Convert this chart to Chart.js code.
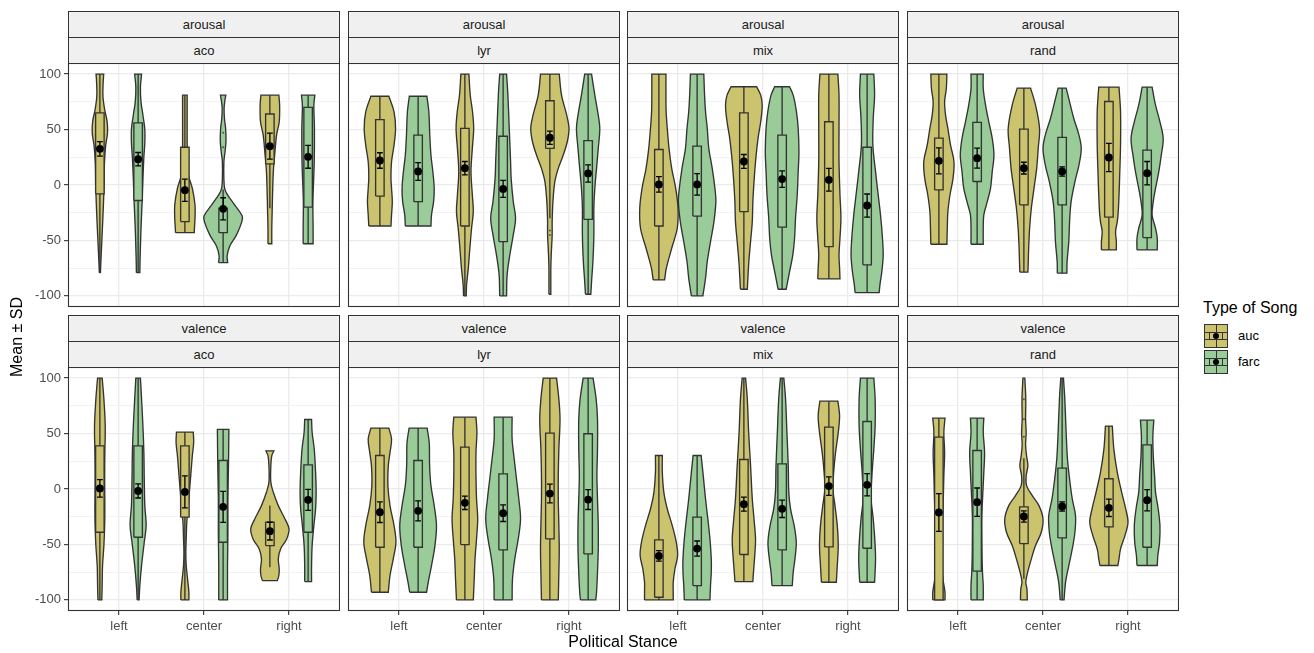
<!DOCTYPE html>
<html>
<head>
<meta charset="utf-8">
<script src="https://cdn.jsdelivr.net/npm/chart.js@4.4.1/dist/chart.umd.min.js"></script>
<style>
html,body{margin:0;padding:0;background:#fff;}
body{width:1314px;height:653px;position:relative;overflow:hidden;font-family:"Liberation Sans",Arial,Helvetica,sans-serif;}
canvas{position:absolute;}
.strip{position:absolute;background:#F0F0F0;border:1px solid #333;box-sizing:border-box;font-size:13px;color:#1A1A1A;text-align:center;}
.title{position:absolute;font-size:16px;color:#000;white-space:nowrap;}
.key{position:absolute;width:24px;height:24px;border:1px solid #333;box-sizing:border-box;}
.key i{position:absolute;background:#333;display:block;}
.key b{position:absolute;left:8px;top:8px;width:6px;height:6px;border-radius:50%;background:#000;}
.lab{position:absolute;font-size:13px;color:#000;}
</style>
</head>
<body>
<script>
// ---------------- data ----------------
const categories = ['left', 'center', 'right'];
const seriesNames = ['auc', 'farc'];
const rowLabels = ['arousal', 'valence'];
const colLabels = ['aco', 'lyr', 'mix', 'rand'];
const yTickValues = [-100, -75, -50, -25, 0, 25, 50, 75, 100];
const yMajorValues = [-100, -50, 0, 50, 100];

// violin order in each panel: auc-left, farc-left, auc-center, farc-center, auc-right, farc-right
// each profile: [value, relative density width] from bottom to top
const violins_arousal_aco = [
  [[-79,.03],[-70,.05],[-55,.09],[-40,.13],[-20,.18],[0,.22],[20,.24],[35,.3],[47,.4],[57,.38],[68,.25],[80,.16],[92,.17],[100,.2]],
  [[-79,.09],[-69,.1],[-50,.13],[-35,.16],[-15,.21],[5,.25],[25,.3],[38,.35],[50,.35],[62,.26],[75,.15],[88,.12],[100,.18]],
  [[-43,.49],[-39,.5],[-30,.53],[-18,.53],[-3,.39],[12,.14],[36,.12],[66,.12],[81,.12]],
  [[-70,.24],[-64,.21],[-55,.35],[-45,.7],[-33,.98],[-28,1.0],[-18,.6],[-8,.2],[-3,.08],[5,.04],[21,.04],[30,.1],[40,.15],[51,.13],[60,.07],[69,.05],[76,.09],[81,.14]],
  [[-53,.1],[-39,.1],[-24,.12],[-9,.14],[12,.18],[27,.25],[45,.35],[57,.49],[72,.51],[81,.47]],
  [[-53,.26],[-39,.26],[-15,.25],[21,.32],[51,.33],[72,.3],[81,.35]]
];
const violins_arousal_lyr = [
  [[-37,.58],[-27,.61],[-15,.65],[-3,.61],[6,.58],[21,.61],[36,.74],[51,.82],[66,.74],[80,.47]],
  [[-37,.67],[-27,.7],[-15,.81],[-3,.84],[12,.77],[27,.67],[45,.61],[66,.56],[80,.46]],
  [[-100,.07],[-90,.09],[-75,.18],[-57,.26],[-39,.35],[-24,.44],[-9,.39],[12,.32],[33,.39],[51,.46],[66,.4],[81,.28],[100,.21]],
  [[-100,.18],[-81,.21],[-63,.35],[-45,.53],[-30,.65],[-15,.53],[6,.42],[21,.39],[51,.32],[81,.25],[100,.18]],
  [[-98.5,.05],[-75,.05],[-63,.07],[-45,.12],[-33,.12],[-15,.16],[3,.26],[15,.44],[27,.7],[39,.91],[51,1.0],[63,.88],[81,.61],[100,.49]],
  [[-98.5,.14],[-87,.18],[-69,.25],[-45,.3],[-21,.3],[-3,.35],[15,.44],[33,.53],[51,.61],[63,.53],[81,.35],[100,.18]]
];
const violins_arousal_mix = [
  [[-85.6,.3],[-75,.39],[-57,.67],[-39,.96],[-21,1.0],[-3,.88],[15,.67],[33,.53],[51,.44],[66,.38],[81,.37],[100,.37]],
  [[-100,.3],[-84,.44],[-69,.53],[-51,.7],[-33,.88],[-15,.98],[-3,.93],[15,.79],[33,.61],[51,.53],[66,.44],[81,.39],[100,.35]],
  [[-94,.18],[-84,.21],[-69,.26],[-51,.35],[-33,.44],[-15,.47],[3,.53],[21,.61],[42,.74],[57,.88],[72,.96],[81,.88],[88.6,.67]],
  [[-94,.21],[-78,.39],[-63,.56],[-48,.65],[-30,.7],[-9,.79],[12,.84],[30,.88],[51,.84],[66,.75],[81,.58],[88.6,.39]],
  [[-84.7,.58],[-75,.56],[-63,.53],[-48,.58],[-30,.63],[-9,.58],[21,.53],[51,.53],[81,.53],[100,.47]],
  [[-97,.63],[-90,.67],[-78,.77],[-63,.84],[-45,.79],[-27,.7],[-9,.58],[12,.44],[36,.3],[60,.32],[81,.39],[100,.35]]
];
const violins_arousal_rand = [
  [[-53.4,.42],[-39,.44],[-24,.47],[-9,.58],[6,.74],[21,.79],[36,.61],[51,.47],[63,.35],[75,.3],[87,.39],[100,.42]],
  [[-53.4,.32],[-39,.32],[-27,.35],[-15,.53],[-3,.7],[12,.79],[27,.88],[42,.79],[57,.61],[72,.44],[87,.32],[100,.32]],
  [[-78.6,.21],[-69,.23],[-57,.25],[-39,.3],[-21,.39],[-3,.53],[15,.67],[33,.75],[51,.82],[72,.61],[87.4,.35]],
  [[-79.5,.25],[-69,.26],[-51,.35],[-33,.39],[-15,.47],[3,.67],[18,.88],[33,1.0],[45,.88],[60,.61],[75,.39],[87.4,.21]],
  [[-58.5,.39],[-51,.39],[-42,.35],[-33,.44],[-24,.49],[-9,.53],[6,.56],[36,.61],[66,.61],[88.3,.53]],
  [[-58.5,.53],[-48,.53],[-39,.44],[-27,.26],[-15,.32],[-3,.44],[12,.61],[27,.74],[42,.84],[57,.67],[72,.44],[88.3,.26]]
];
const violins_valence_aco = [
  [[-100,.1],[-87,.12],[-69,.14],[-51,.21],[-33,.25],[-15,.26],[9,.25],[33,.26],[57,.28],[81,.21],[100,.12]],
  [[-100,.05],[-87,.09],[-69,.18],[-48,.32],[-33,.42],[-15,.35],[9,.32],[33,.3],[57,.25],[81,.18],[100,.12]],
  [[-100,.21],[-93,.21],[-81,.14],[-69,.07],[-57,.05],[-45,.07],[-30,.1],[-15,.18],[0,.25],[15,.32],[30,.39],[42,.46],[51.3,.44]],
  [[-100,.23],[-69,.23],[-39,.25],[-9,.25],[21,.28],[53.7,.3]],
  [[-82.6,.39],[-78,.47],[-72,.49],[-63,.44],[-54,.56],[-45,.88],[-36,1.0],[-27,.79],[-15,.44],[-3,.18],[6,.05],[21,.05],[30,.1],[34.4,.21]],
  [[-83.5,.18],[-69,.18],[-51,.21],[-33,.3],[-18,.39],[-3,.42],[15,.39],[36,.32],[51,.21],[62.7,.18]]
];
const violins_valence_lyr = [
  [[-93.1,.44],[-78,.53],[-63,.7],[-48,.84],[-33,.74],[-15,.53],[3,.42],[21,.44],[33,.53],[45,.61],[54.9,.47]],
  [[-93.1,.44],[-84,.53],[-69,.7],[-51,.88],[-33,.96],[-15,.84],[3,.67],[21,.6],[42,.58],[54.9,.47]],
  [[-100,.44],[-81,.49],[-63,.53],[-45,.61],[-27,.67],[-9,.61],[12,.58],[33,.58],[51,.63],[64.8,.58]],
  [[-100,.47],[-81,.49],[-63,.61],[-45,.79],[-27,.91],[-9,.82],[9,.7],[27,.58],[45,.47],[64.8,.47]],
  [[-100,.44],[-75,.47],[-54,.49],[-33,.47],[-9,.44],[12,.44],[36,.47],[63,.53],[81,.47],[100,.35]],
  [[-100,.4],[-93,.44],[-75,.49],[-54,.53],[-33,.53],[-9,.49],[12,.46],[36,.49],[63,.49],[81,.42],[100,.26]]
];
const violins_valence_mix = [
  [[-100,.75],[-93,.75],[-84,.75],[-72,.84],[-60,.98],[-48,.91],[-33,.7],[-18,.44],[-3,.26],[15,.18],[30.2,.18]],
  [[-100,.67],[-87,.7],[-75,.74],[-63,.74],[-45,.67],[-27,.56],[-9,.44],[12,.32],[30.2,.21]],
  [[-83.5,.47],[-78,.49],[-69,.53],[-57,.58],[-45,.61],[-27,.53],[-9,.44],[21,.35],[51,.25],[81,.18],[100,.09]],
  [[-87.1,.53],[-75,.58],[-63,.67],[-48,.74],[-33,.63],[-18,.44],[-3,.35],[21,.32],[51,.25],[81,.18],[100,.09]],
  [[-84.1,.39],[-69,.44],[-51,.49],[-33,.44],[-15,.32],[0,.21],[15,.25],[33,.35],[51,.49],[66,.56],[79.2,.47]],
  [[-84.1,.39],[-63,.44],[-45,.4],[-27,.32],[-9,.21],[12,.25],[36,.35],[57,.42],[81,.42],[100,.35]]
];
const violins_valence_rand = [
  [[-100,.32],[-93,.32],[-81,.21],[-69,.14],[-51,.18],[-30,.19],[-9,.23],[12,.26],[33,.3],[51,.26],[63.9,.32]],
  [[-100,.32],[-87,.32],[-75,.28],[-63,.26],[-45,.25],[-24,.25],[-3,.3],[15,.35],[33,.39],[51,.32],[63.9,.35]],
  [[-100,.18],[-90,.16],[-84,.1],[-75,.2],[-63,.39],[-51,.61],[-39,.91],[-27,1.0],[-15,.79],[-6,.44],[3,.14],[12,.12],[21,.21],[30,.14],[40,.09],[51,.12],[63,.09],[81,.1],[100,.05]],
  [[-100,.1],[-84,.18],[-69,.35],[-54,.53],[-39,.67],[-24,.7],[-9,.53],[9,.39],[27,.28],[51,.21],[81,.14],[100,.07]],
  [[-69,.47],[-63,.53],[-54,.61],[-42,.84],[-30,1.0],[-18,.88],[-3,.67],[15,.44],[36,.26],[56.7,.18]],
  [[-69,.53],[-60,.56],[-48,.65],[-33,.67],[-18,.58],[-3,.44],[12,.39],[30,.32],[48,.3],[62.1,.35]]
];

// per panel (arousal aco, lyr, mix, rand, valence aco, lyr, mix, rand), 6 groups each
const boxLow = [
  [-8, -14, -33, -43, 19, -20],
  [-10, -15, -37, -51, 33, -31],
  [-37, -28, -24, -38, -55.5, -72],
  [-4.4, 3.2, -17.9, -17.9, -29, -47.4],
  [-39, -43.5, -25.4, -48, -51, -39],
  [-52.5, -52.5, -50.1, -54.9, -45, -58.5],
  [-97.6, -87.1, -59.1, -54.9, -52.2, -53.4],
  [-100, -74.1, -49.2, -44.1, -34.1, -52.5]
];
const boxHigh = [
  [65, 56, 34, -21, 64, 70],
  [59, 45, 51, 44, 76, 40],
  [32, 35, 65, 45, 57, 34],
  [42.3, 56.4, 50.4, 42.9, 75.3, 31.4],
  [38.9, 38.9, 38.9, 25.7, -29.9, 21.8],
  [30.2, 25.7, 37.7, 13.7, 50.4, 49.8],
  [-45.9, -25.4, 26.6, 22.7, 55.8, 60.9],
  [46.8, 34.7, -16.1, 18.8, 9.2, 39.8]
];
const whiskLow = [
  [-79, -79, -43, -70, -21, -53],
  [-37, -37, -100, -100, -30, -98.5],
  [-85.6, -100, -94, -94, -84.7, -97],
  [-53.4, -53.4, -78.6, -79.5, -58.5, -58.5],
  [-100, -100, -100, -100, -70.5, -83.5],
  [-93.1, -93.1, -100, -100, -100, -100],
  [-100, -100, -83.5, -87.1, -84.1, -84.1],
  [-100, -100, -81, -100, -69, -69]
];
const whiskHigh = [
  [100, 100, 81, -4, 81, 81],
  [80, 80, 100, 100, 100, 100],
  [100, 100, 88.6, 88.6, 100, 100],
  [100, 100, 87.4, 87.4, 88.3, 88.3],
  [100, 100, 51.3, 53.7, -14.9, 62.7],
  [54.9, 54.9, 64.8, 64.8, 100, 100],
  [30.2, 30.2, 100, 100, 79.2, 100],
  [63.9, 63.9, 27.8, 100, 56.7, 62.1]
];
const meanVals = [
  [32.6, 23.3, -4.7, -21.5, 35, 25.4],
  [22.1, 12.2, 15.2, -3.5, 42.6, 10.4],
  [0.5, 0.5, 21.2, 5.3, 4.7, -18.5],
  [21.8, 24.2, 15.2, 12.2, 24.8, 10.7],
  [0.5, -1.7, -2.6, -16.1, -38, -9.8],
  [-20.9, -19.7, -12.5, -21.8, -4.1, -9.5],
  [-60.3, -53.7, -13.7, -17.9, 2.6, 3.8],
  [-21.2, -11.9, -24.8, -15.8, -17, -10.1]
];
const errVals = [
  [6.5, 6, 10, 10, 11.7, 10.3],
  [7, 8, 6, 7.7, 6, 7.8],
  [7, 9.7, 6.3, 7.5, 10.3, 10.4],
  [11.7, 9, 5.3, 4.2, 12.8, 10.5],
  [7.9, 6.4, 14.5, 14, 8, 9.5],
  [9.3, 9, 6, 7.5, 8.5, 9],
  [4.8, 6.8, 6.3, 7.8, 8.3, 10],
  [17, 12.8, 5, 4.2, 7.8, 9.6]
];
// [group index, value]
const outlierVals = [
  [[3, 47], [3, 34]],
  [[4, -41], [4, -45]],
  [], [], [], [], [],
  [[2, 81], [2, 63], [2, 47]]
];
const violinSets = [violins_arousal_aco, violins_arousal_lyr, violins_arousal_mix, violins_arousal_rand,
                    violins_valence_aco, violins_valence_lyr, violins_valence_mix, violins_valence_rand];

// ---------------- style / layout ----------------
const FILL = ['#CCC36E', '#99CC99'];
const OUTLINE = '#333333';
const LW = 1.35;
const DODGE = 0.225, BOX_HW = 0.05, CAP_HW = 0.034;
const PANEL_LEFT = [68, 348, 627, 907];
const PANEL_TOP = [63, 367];
const PW = 272, PH = 244, AXW = 45, AXH = 26;
const FONT = {family: "'Liberation Sans', Arial, Helvetica, sans-serif", size: 13};

function groupX(k) { return Math.floor(k / 2) + 1 + (k % 2 === 0 ? -DODGE : DODGE); }

const panelBorder = {
  id: 'panelBorder',
  afterDraw(chart) {
    const a = chart.chartArea, ctx = chart.ctx;
    ctx.save();
    ctx.strokeStyle = OUTLINE;
    ctx.lineWidth = 1.1;
    ctx.strokeRect(a.left + 0.5, a.top + 0.5, a.right - a.left - 1, a.bottom - a.top - 1);
    ctx.restore();
  }
};

function addDiv(cls, left, top, w, h, text) {
  const d = document.createElement('div');
  d.className = cls;
  d.style.left = left + 'px'; d.style.top = top + 'px';
  if (w != null) d.style.width = w + 'px';
  if (h != null) { d.style.height = h + 'px'; d.style.lineHeight = (h - 2) + 'px'; }
  if (text != null) d.textContent = text;
  document.body.appendChild(d);
  return d;
}

function buildPanel(p) {
  const r = Math.floor(p / 4), c = p % 4;
  const showY = c === 0, showX = r === 1;
  const L = PANEL_LEFT[c], T = PANEL_TOP[r];

  addDiv('strip', L, T - 52, PW, 27, rowLabels[r]);
  addDiv('strip', L, T - 26, PW, 27, colLabels[c]);

  const cv = document.createElement('canvas');
  cv.width = PW + AXW; cv.height = PH + AXH;
  cv.style.left = (L - AXW) + 'px'; cv.style.top = T + 'px';
  document.body.appendChild(cv);

  const datasets = [];
  violinSets[p].forEach((prof, k) => {
    const cx = groupX(k);
    const left = prof.map(([y, w]) => ({x: cx - w * DODGE, y}));
    const right = prof.map(([y, w]) => ({x: cx + w * DODGE, y})).reverse();
    const n = left.length;
    const pts = [left[0], ...left, left[n - 1], right[0], ...right, right[n - 1], left[0]];
    datasets.push({type: 'line', data: pts, fill: 'shape', backgroundColor: FILL[k % 2],
      borderColor: OUTLINE, borderWidth: LW, tension: 0.35, pointRadius: 0, order: 6});
  });
  const wData = [];
  for (let k = 0; k < 6; k++) {
    const cx = groupX(k);
    wData.push({x: cx, y: whiskLow[p][k]}, {x: cx, y: whiskHigh[p][k]}, {x: null, y: null});
  }
  datasets.push({type: 'line', data: wData, fill: false, borderColor: OUTLINE, borderWidth: LW,
    tension: 0, pointRadius: 0, order: 5});
  for (let k = 0; k < 6; k++) {
    const cx = groupX(k), lo = boxLow[p][k], hi = boxHigh[p][k];
    datasets.push({type: 'line', fill: 'shape', backgroundColor: FILL[k % 2], borderColor: OUTLINE,
      borderWidth: LW, borderJoinStyle: 'miter', tension: 0, pointRadius: 0, order: 4,
      data: [{x: cx - BOX_HW, y: lo}, {x: cx + BOX_HW, y: lo}, {x: cx + BOX_HW, y: hi}, {x: cx - BOX_HW, y: hi}, {x: cx - BOX_HW, y: lo}]});
  }
  const eData = [];
  for (let k = 0; k < 6; k++) {
    const cx = groupX(k), m = meanVals[p][k], e = errVals[p][k];
    eData.push({x: cx - CAP_HW, y: m + e}, {x: cx + CAP_HW, y: m + e}, {x: null, y: null},
               {x: cx, y: m + e}, {x: cx, y: m - e}, {x: null, y: null},
               {x: cx - CAP_HW, y: m - e}, {x: cx + CAP_HW, y: m - e}, {x: null, y: null});
  }
  datasets.push({type: 'line', data: eData, fill: false, borderColor: '#000', borderWidth: 1.3,
    tension: 0, pointRadius: 0, order: 3});
  datasets.push({type: 'line', showLine: false, order: 2,
    data: meanVals[p].map((m, k) => ({x: groupX(k), y: m})),
    pointRadius: 3.9, pointBackgroundColor: '#000', pointBorderColor: '#000', pointBorderWidth: 0});
  if (outlierVals[p].length) {
    datasets.push({type: 'line', showLine: false, order: 1,
      data: outlierVals[p].map(([k, v]) => ({x: groupX(k), y: v})),
      pointRadius: 1, pointBackgroundColor: '#555', pointBorderColor: '#555', pointBorderWidth: 0});
  }

  const zeroPad = (s) => { s.paddingLeft = 0; s.paddingRight = 0; s.paddingTop = 0; s.paddingBottom = 0; };

  new Chart(cv, {
    type: 'line',
    data: {datasets},
    plugins: [panelBorder],
    options: {
      responsive: false, animation: false, events: [],
      layout: {padding: 0, autoPadding: false},
      plugins: {legend: {display: false}, tooltip: {enabled: false}},
      scales: {
        x: {
          type: 'linear', min: 0.4, max: 3.6,
          afterBuildTicks: (s) => { s.ticks = categories.map((_, i) => ({value: i + 1})); },
          afterFit: (s) => { s.height = AXH; zeroPad(s); },
          ticks: {callback: (v) => showX ? categories[v - 1] : '', font: FONT, color: '#4D4D4D',
                  padding: 4, maxRotation: 0, autoSkip: false},
          grid: {color: '#EBEBEB', lineWidth: 1.3, tickLength: 4,
                 tickColor: showX ? OUTLINE : 'rgba(0,0,0,0)', tickWidth: 1.1},
          border: {display: false}
        },
        y: {
          type: 'linear', min: -110, max: 110,
          afterBuildTicks: (s) => { s.ticks = yTickValues.map(v => ({value: v})); },
          afterFit: (s) => { s.width = AXW; zeroPad(s); },
          ticks: {callback: (v) => (showY && yMajorValues.includes(v)) ? String(v) : '',
                  font: FONT, color: '#4D4D4D', padding: 3, autoSkip: false},
          grid: {
            color: (ctx) => yMajorValues.includes(ctx.tick.value) ? '#EBEBEB' : '#F3F3F3',
            lineWidth: (ctx) => yMajorValues.includes(ctx.tick.value) ? 1.3 : 1,
            tickLength: 4,
            tickColor: (ctx) => (showY && yMajorValues.includes(ctx.tick.value)) ? OUTLINE : 'rgba(0,0,0,0)',
            tickWidth: 1.1
          },
          border: {display: false}
        }
      }
    }
  });
}

for (let p = 0; p < 8; p++) buildPanel(p);

// axis titles
const yt = addDiv('title', 17 - 60, 337 - 10, 120, null, 'Mean ± SD');
yt.style.textAlign = 'center'; yt.style.lineHeight = '20px';
yt.style.transform = 'rotate(-90deg)';
const xt = addDiv('title', 623 - 100, 642 - 10, 200, null, 'Political Stance');
xt.style.textAlign = 'center'; xt.style.lineHeight = '20px';

// legend
const lt = addDiv('title', 1203, 299, null, null, 'Type of Song');
lt.style.lineHeight = '18px';
seriesNames.forEach((name, i) => {
  const top = 324 + i * 26;
  const k = addDiv('key', 1204, top, null, null, null);
  k.style.background = FILL[i];
  const parts = [
    [0, 7, 22, 1], [0, 14, 22, 1],
    [10.5, 0, 1, 7], [10.5, 15, 1, 7],
    [4, 7, 1, 8], [17, 7, 1, 8]
  ];
  parts.forEach(([x, y, w, h]) => {
    const s = document.createElement('i');
    s.style.left = x + 'px'; s.style.top = y + 'px'; s.style.width = w + 'px'; s.style.height = h + 'px';
    k.appendChild(s);
  });
  const dot = document.createElement('b');
  k.appendChild(dot);
  const lb = addDiv('lab', 1238, top, null, 24, name);
  lb.style.lineHeight = '24px';
});
</script>
</body>
</html>
